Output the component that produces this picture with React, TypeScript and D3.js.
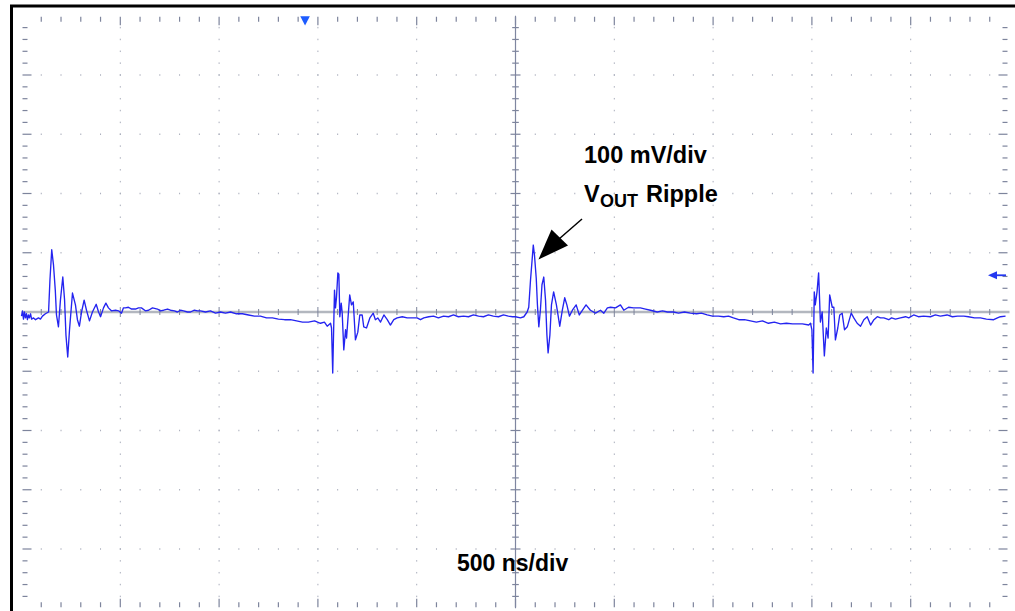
import React, { useEffect, useRef } from "react";
import * as d3 from "d3";

// scope capture, 500 ns/div and 100 mV/div, 10 x 10 divisions
const timeNs = [
  0, 5, 10, 15, 20, 25, 30, 35, 40, 46, 51, 61, 71, 86, 96, 106, 121, 137,
  144, 153, 162, 171, 177, 187, 197, 209, 218, 225, 234, 243, 258, 273, 283,
  293, 304, 317, 329, 344, 359, 378, 390, 400, 415, 427, 440, 455, 476, 491,
  506, 516, 526, 541, 557, 577, 592, 607, 627, 643, 663, 688, 703, 719, 739,
  754, 774, 789, 805, 820, 840, 855, 875, 891, 906, 931, 956, 982, 1007, 1032,
  1058, 1088, 1118, 1149, 1179, 1209, 1240, 1270, 1300, 1331, 1361, 1392,
  1422, 1452, 1483, 1513, 1533, 1547, 1564, 1569, 1575, 1584, 1589, 1594,
  1601, 1606, 1611, 1618, 1623, 1631, 1640, 1645, 1661, 1670, 1679, 1690,
  1702, 1712, 1724, 1732, 1746, 1763, 1780, 1791, 1803, 1817, 1834, 1851,
  1867, 1884, 1901, 1927, 1952, 1977, 2002, 2019, 2036, 2061, 2085, 2110,
  2136, 2161, 2186, 2211, 2237, 2262, 2287, 2313, 2338, 2363, 2388, 2414,
  2439, 2464, 2485, 2500, 2525, 2542, 2559, 2567, 2576, 2590, 2596, 2605,
  2611, 2618, 2626, 2634, 2643, 2652, 2659, 2665, 2674, 2682, 2693, 2707,
  2724, 2737, 2749, 2760, 2773, 2788, 2807, 2823, 2839, 2857, 2879, 2905,
  2930, 2947, 2965, 2981, 3006, 3031, 3048, 3072, 3097, 3132, 3158, 3183,
  3217, 3244, 3269, 3299, 3325, 3355, 3385, 3416, 3441, 3470, 3497, 3527,
  3554, 3578, 3603, 3630, 3659, 3689, 3719, 3750, 3780, 3810, 3841, 3871,
  3902, 3927, 3952, 3984, 3993, 4000, 4006, 4012, 4017, 4026, 4034, 4043,
  4052, 4063, 4073, 4082, 4090, 4103, 4111, 4119, 4131, 4141, 4153, 4165,
  4179, 4199, 4212, 4229, 4246, 4263, 4280, 4297, 4314, 4331, 4347, 4364,
  4389, 4403, 4423, 4448, 4474, 4490, 4515, 4539, 4565, 4600, 4625, 4650,
  4684, 4711, 4737, 4769, 4792, 4823, 4853, 4883, 4920, 4939, 4954, 4980,
];
const rippleMv = [
  -7, 2, -12, 0, -10, -3, -13, -5, -10, -3, -12, -10, -13, -10, -12, -7, -3, 0,
  54, 105, 79, 37, -5, -25, 20, 59, 20, -39, -76, -30, 32, 12, -13,
  -24, 0, 20, 3, -15, 0, 13, 0, -8, 7, 15, 7, 2, 3, 2,
  -2, 7, 7, 8, 5, 5, 7, 7, 2, 3, 7, 5, 2, 3, 5,
  3, 2, 0, 3, 2, 0, 0, 3, 2, 2, 0, 2, -2, 0, -2,
  0, -3, -3, -5, -7, -7, -10, -10, -12, -13, -13, -15,
  -17, -17, -15, -19, -17, -24, -19, -27, -103, 37, 7, 24,
  66, 64, -8, 15, -2, -64, -30, -44, 29, 12, 17, -47,
  -34, -5, -5, -25, -27, -10, -2, -13, -10, -17, -5, -13,
  -22, -13, -10, -8, -10, -10, -10, -13, -10, -8, -7, -10,
  -7, -8, -5, -8, -7, -8, -5, -7, -8, -5, -7, -8,
  -5, -7, -8, -8, -10, -8, 0, 8, 54, 113, 96, 57,
  12, -25, 3, 46, 59, 20, -39, -69, -39, 12, 34, 12,
  -24, 3, 24, 12, -7, 3, 12, -5, 3, 12, 3, -2,
  3, -2, 7, 8, 7, 12, 3, 8, 7, 7, 5, 3,
  0, 2, 0, 0, -2, 0, -2, -3, -2, -5, -7, -7,
  -8, -7, -10, -13, -13, -15, -17, -15, -19, -17, -20, -19,
  -20, -20, -20, -22, -19, -30, -103, 34, 12, 34, 66, -17,
  0, -74, -27, -44, 29, 8, 8, -47, -27, -5, -2, -30,
  -25, -2, -10, -19, -24, -13, -8, -22, -13, -8, -10, -10,
  -13, -10, -12, -10, -8, -10, -5, -8, -7, -8, -5, -7,
  -5, -8, -7, -7, -8, -10, -10, -12, -13, -10, -8, -7,
];
const triggerNs = 1435;
const refLevelMv = 62;
const voltsLabel = "100 mV/div";
const timeLabel = "500 ns/div";

const W = 1015;
const H = 611;

function ScopeShot() {
  const ref = useRef<SVGSVGElement | null>(null);

  useEffect(() => {
    const svg = d3.select(ref.current);
    svg.selectAll("*").remove();

    const x = d3.scaleLinear().domain([0, 5000]).range([21.5, 1009.5]);
    const y = d3.scaleLinear().domain([-500, 500]).range([608.25, 15.75]);
    const xMinor = d3.range(0, 5001, 100);
    const yMinor = d3.range(-500, 501, 20);
    const isMajorX = (t: number) => t % 500 === 0;
    const isMajorY = (v: number) => v % 100 === 0;
    const tickCol = "#7d849c";
    const dotCol = "#a9adbb";

    svg.append("rect").attr("width", W).attr("height", H).attr("fill", "#fff");

    // outer frame (right/bottom run off the picture)
    svg.append("rect")
      .attr("x", 11.5).attr("y", 6).attr("width", 1012).attr("height", 612)
      .attr("fill", "none").attr("stroke", "#000").attr("stroke-width", 3);

    const g = svg.append("g");

    // dotted graticule on major lines
    xMinor.filter(t => isMajorX(t) && t > 0 && t < 5000 && t !== 2500).forEach(t => {
      yMinor.filter(v => v > -500 && v < 500).forEach(v => {
        g.append("rect").attr("x", x(t) - 0.5).attr("y", y(v) - 0.75)
          .attr("width", 1).attr("height", 1.5).attr("fill", dotCol);
      });
    });
    yMinor.filter(v => isMajorY(v) && v > -500 && v < 500 && v !== 0).forEach(v => {
      xMinor.filter(t => t > 0 && t < 5000).forEach(t => {
        g.append("rect").attr("x", x(t) - 0.5).attr("y", y(v) - 0.75)
          .attr("width", 1).attr("height", 1.5).attr("fill", dotCol);
      });
    });

    // edge ticks
    xMinor.filter(t => t > 0 && t < 5000).forEach(t => {
      const len = isMajorX(t) ? 8.5 : 5;
      g.append("line").attr("x1", x(t)).attr("x2", x(t))
        .attr("y1", y(500) + 1).attr("y2", y(500) + 1 + len)
        .attr("stroke", tickCol).attr("stroke-width", 1.2);
      g.append("line").attr("x1", x(t)).attr("x2", x(t))
        .attr("y1", y(-500) - 1).attr("y2", y(-500) - 1 - len)
        .attr("stroke", tickCol).attr("stroke-width", 1.2);
    });
    yMinor.filter(v => v > -500 && v < 500).forEach(v => {
      const len = isMajorY(v) ? 9 : 5;
      g.append("line").attr("y1", y(v)).attr("y2", y(v))
        .attr("x1", x(0) + 1).attr("x2", x(0) + 1 + len)
        .attr("stroke", tickCol).attr("stroke-width", 1.2);
      g.append("line").attr("y1", y(v)).attr("y2", y(v))
        .attr("x1", x(5000) - 2).attr("x2", x(5000) - 2 - len)
        .attr("stroke", tickCol).attr("stroke-width", 1.2);
    });

    // centre axes
    g.append("line").attr("x1", x(0)).attr("x2", x(5000))
      .attr("y1", y(0)).attr("y2", y(0))
      .attr("stroke", "#b3b7bf").attr("stroke-width", 2.5);
    g.append("line").attr("x1", x(2500)).attr("x2", x(2500))
      .attr("y1", y(500)).attr("y2", y(-500))
      .attr("stroke", "#7f86a0").attr("stroke-width", 1.2);
    xMinor.filter(t => t > 0 && t < 5000 && t !== 2500).forEach(t => {
      const h = isMajorX(t) ? 5 : 3;
      g.append("line").attr("x1", x(t)).attr("x2", x(t))
        .attr("y1", y(0) - h).attr("y2", y(0) + h)
        .attr("stroke", tickCol).attr("stroke-width", 1);
    });
    yMinor.filter(v => v > -500 && v < 500 && v !== 0).forEach(v => {
      const h = isMajorY(v) ? 5 : 3.3;
      g.append("line").attr("y1", y(v)).attr("y2", y(v))
        .attr("x1", x(2500) - h).attr("x2", x(2500) + h)
        .attr("stroke", tickCol).attr("stroke-width", 1.2);
    });

    // trace
    const line = d3.line<number>()
      .x((_, i) => x(timeNs[i]))
      .y(d => y(d));
    svg.append("path").attr("d", line(rippleMv) || "")
      .attr("fill", "none").attr("stroke", "#2424f0")
      .attr("stroke-width", 1.35).attr("stroke-linejoin", "round");

    // trigger marker and reference level arrow
    const tx = x(triggerNs);
    svg.append("path")
      .attr("d", `M${tx - 4.8},16.3 L${tx + 4.8},16.3 L${tx},25.5 Z`)
      .attr("fill", "#1d5cff");
    const ry = y(refLevelMv);
    svg.append("path")
      .attr("d", `M988,${ry} L997,${ry - 4} L997,${ry + 4} Z`)
      .attr("fill", "#2438f0");
    svg.append("line").attr("x1", 996).attr("x2", 1006)
      .attr("y1", ry).attr("y2", ry)
      .attr("stroke", "#2438f0").attr("stroke-width", 1.8);

    // annotations
    const font = "'Liberation Sans', Arial, Helvetica, sans-serif";
    svg.append("text").attr("x", 584).attr("y", 163)
      .attr("font-family", font).attr("font-weight", "bold")
      .attr("font-size", 23.5).attr("fill", "#000").text(voltsLabel);
    svg.append("text").attr("x", 584).attr("y", 201.5)
      .attr("font-family", font).attr("font-weight", "bold")
      .attr("font-size", 23.5).attr("fill", "#000").text("V");
    svg.append("text").attr("x", 600).attr("y", 207)
      .attr("font-family", font).attr("font-weight", "bold")
      .attr("font-size", 18).attr("fill", "#000").text("OUT");
    svg.append("text").attr("x", 646).attr("y", 201.5)
      .attr("font-family", font).attr("font-weight", "bold")
      .attr("font-size", 23.5).attr("fill", "#000").text("Ripple");
    svg.append("text").attr("x", 457).attr("y", 571)
      .attr("font-family", font).attr("font-weight", "bold")
      .attr("font-size", 23).attr("fill", "#000").text(timeLabel);

    // arrow pointing at the ripple spike
    svg.append("line").attr("x1", 582).attr("y1", 219)
      .attr("x2", 559).attr("y2", 239)
      .attr("stroke", "#000").attr("stroke-width", 1.5);
    svg.append("path")
      .attr("d", "M538.5,259.5 L551.5,229.5 L568,245.5 Z")
      .attr("fill", "#000");
  }, []);

  return (
    <svg
      ref={ref}
      width={W}
      height={H}
      style={{ position: "absolute", left: 0, top: 0, display: "block" }}
    />
  );
}

export default function App() {
  return <ScopeShot />;
}
